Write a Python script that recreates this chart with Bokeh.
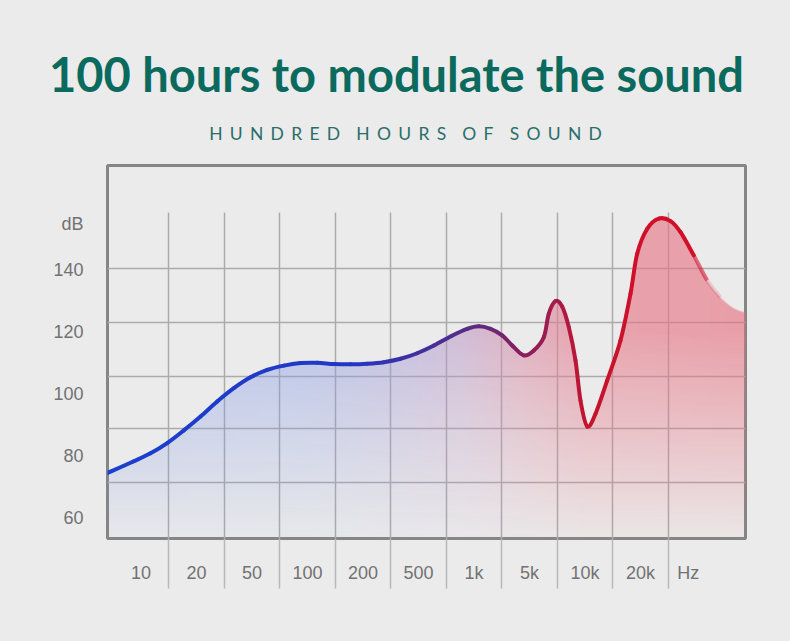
import numpy as np
from bokeh.plotting import figure
from bokeh.layouts import column
from bokeh.models import FixedTicker, Range1d
from bokeh.core.properties import value
from bokeh.embed import file_html
from bokeh.resources import INLINE

# ---------------- data ----------------
title_text = "100 hours to modulate the sound"
subtitle_text = "HUNDRED HOURS OF SOUND"

band_labels = ["10", "20", "50", "100", "200", "500", "1k", "5k", "10k", "20k"]
unit_x_label = "Hz"
band_edges = [1, 2, 3, 4, 5, 6, 7, 8, 9, 10]

db_ticks = [60, 80, 100, 120, 140]
unit_y_label = "dB"
db_unit_at = 155
db_grid = [71.4, 88.7, 105.8, 123.1, 140.5]

# curve: position along the frequency bands (band index units) and level in dB
curve_pos = [-0.105, 0.369, 0.670, 0.971, 1.270, 1.571, 1.872, 2.172, 2.473, 2.773,
             3.073, 3.374, 3.675, 3.974, 4.275, 4.576, 4.875, 5.176, 5.477, 5.776,
             6.095, 6.378, 6.587, 6.798, 7.008, 7.189, 7.398, 7.578, 7.758, 7.848,
             7.969, 8.090, 8.209, 8.329, 8.419, 8.540, 8.690, 8.901, 9.140, 9.321,
             9.441, 9.622, 9.831, 10.042, 10.222, 10.461, 10.703, 10.942, 11.182, 11.393]
curve_db = [74.4, 78.2, 80.8, 84.1, 88.2, 92.7, 97.6, 101.9, 105.4, 107.8,
            109.2, 110.0, 110.1, 109.7, 109.6, 109.8, 110.3, 111.4, 113.2, 115.7,
            118.8, 121.1, 121.9, 121.1, 119.0, 115.7, 112.5, 114.1, 118.4, 126.0,
            130.1, 128.3, 121.6, 110.9, 97.9, 89.5, 93.6, 104.4, 117.3, 132.5,
            145.4, 153.5, 156.8, 156.0, 152.4, 144.9, 136.8, 131.4, 127.9, 126.5]

# ---------------- styling ----------------
BG = "#ebebeb"
TEAL = "#0b6a5e"
X_RANGE = (-0.105, 11.393)
Y_RANGE = (53.2, 174.0)

line_stops = [(0.0, "#1b3fcf"), (4.3, "#2238c4"), (5.5, "#40309f"), (6.6, "#5c2b80"),
              (7.4, "#8a2060"), (8.0, "#a51c48"), (8.5, "#c2142f"), (9.5, "#d01029"),
              (11.4, "#d01029")]
fill_stops = [(0.0, "#7d95e6"), (3.5, "#8599e6"), (5.0, "#a29ad8"), (6.3, "#bd98c6"),
              (7.3, "#d88aa6"), (8.5, "#e6798a"), (11.4, "#e8707f")]


def hex2rgb(h):
    return [int(h[i:i + 2], 16) for i in (1, 3, 5)]


def interp_colors(u, stops):
    us = [s[0] for s in stops]
    cs = np.array([hex2rgb(s[1]) for s in stops], dtype=float)
    return np.stack([np.interp(u, us, cs[:, k]) for k in range(3)], axis=-1)


def to_hex(rgb):
    return "#%02x%02x%02x" % tuple(int(round(c)) for c in rgb)


# smooth path (Catmull-Rom -> cubic Bezier) through the read points
P = np.column_stack([curve_pos, curve_db])
Pm = np.vstack([P[0], P, P[-1]])
P0, P1, P2, P3 = Pm[:-3], Pm[1:-2], Pm[2:-1], Pm[3:]
C1 = P1 + (P2 - P0) / 6.0
C2 = P2 - (P3 - P1) / 6.0

t = np.linspace(0, 1, 30)[:, None, None]
B = ((1 - t) ** 3) * P1 + 3 * ((1 - t) ** 2) * t * C1 + 3 * (1 - t) * t ** 2 * C2 + t ** 3 * P2
dense = B.transpose(1, 0, 2).reshape(-1, 2)
dense_x = np.maximum.accumulate(dense[:, 0])
dense_y = dense[:, 1]

# ---------------- header (title + subtitle) ----------------
HEAD_H = 160
head = figure(width=790, height=HEAD_H, output_backend="svg", toolbar_location=None,
              x_range=Range1d(0, 790), y_range=Range1d(HEAD_H, 0),
              x_axis_location=None, y_axis_location=None,
              min_border_left=0, min_border_right=0, min_border_top=0, min_border_bottom=0)
head.frame_align = False
head.background_fill_color = BG
head.border_fill_color = BG
head.outline_line_color = None
head.xgrid.visible = False
head.ygrid.visible = False

head.text(x=[396], y=[73], text=[title_text], text_align="center", text_baseline="middle",
          text_font=value("Lato"), text_font_style="bold", text_font_size=value("47px"),
          text_color=TEAL)

letter_gap = "\u2005\u2006"
word_gap = "\u2005 \u2005\u2006"
spaced_sub = word_gap.join(letter_gap.join(w) for w in subtitle_text.split(" "))
head.text(x=[405], y=[133], text=[spaced_sub], text_align="center", text_baseline="middle",
          text_font=value("Lato"), text_font_size=value("17.5px"), text_color="#2a6e6a")

# ---------------- chart ----------------
p = figure(width=790, height=641 - HEAD_H, output_backend="svg", toolbar_location=None,
           x_range=Range1d(*X_RANGE), y_range=Range1d(*Y_RANGE),
           min_border_left=107, min_border_right=45, min_border_top=165 - HEAD_H,
           min_border_bottom=103)
p.frame_align = False
p.background_fill_color = BG
p.border_fill_color = BG
p.outline_line_color = "#858585"
p.outline_line_width = 3

# gradient area under the curve
W, H = 640, 374
xs = X_RANGE[0] + (np.arange(W) + 0.5) * (X_RANGE[1] - X_RANGE[0]) / W
ys = Y_RANGE[0] + (np.arange(H) + 0.5) * (Y_RANGE[1] - Y_RANGE[0]) / H
dy = (Y_RANGE[1] - Y_RANGE[0]) / H
vc = np.interp(xs, dense_x, dense_y)
cols = interp_colors(xs, fill_stops)
amax = np.interp(xs, [3.0, 8.5], [0.46, 0.62])
fade = np.clip((ys[:, None] - 48.0) / 72.0, 0.04, 1.0)
edge = np.clip((vc[None, :] - ys[:, None]) / dy + 0.5, 0.0, 1.0)
alpha = amax[None, :] * fade * edge
rgba = np.zeros((H, W, 4), dtype=np.uint8)
for k in range(3):
    rgba[..., k] = cols[None, :, k].astype(np.uint8)
rgba[..., 3] = (alpha * 255).astype(np.uint8)
img = rgba.view(dtype=np.uint32).reshape(H, W)
p.image_rgba(image=[img], x=X_RANGE[0], y=Y_RANGE[0],
             dw=X_RANGE[1] - X_RANGE[0], dh=Y_RANGE[1] - Y_RANGE[0])

# curve line with colour gradient, fading out on the far right
mid_u = (P1[:, 0] + P2[:, 0]) / 2.0
seg_colors = np.array([to_hex(c) for c in interp_colors(mid_u, line_stops)])
seg_alpha = np.clip((10.9 - mid_u) / 0.55, 0.0, 1.0)
solid = seg_alpha >= 0.999
fading = (seg_alpha > 0.01) & ~solid
for mask, cap in ((solid, "round"), (fading, "butt")):
    p.bezier(x0=P1[mask, 0], y0=P1[mask, 1], x1=P2[mask, 0], y1=P2[mask, 1],
             cx0=C1[mask, 0], cy0=C1[mask, 1], cx1=C2[mask, 0], cy1=C2[mask, 1],
             line_color=list(seg_colors[mask]), line_alpha=seg_alpha[mask].tolist(),
             line_width=4, line_cap=cap)

# grids
p.xgrid.ticker = FixedTicker(ticks=band_edges)
p.xgrid.cross_bounds = (Y_RANGE[0], 158.8)
p.ygrid.ticker = FixedTicker(ticks=db_grid)
for g in (p.xgrid, p.ygrid):
    g.grid_line_color = "#ababab"
    g.grid_line_width = 1.5

# x axis: labels between separators, separators as long minor ticks
label_pos = [i + 0.5 for i in range(len(band_labels))] + [10.36]
p.xaxis.ticker = FixedTicker(ticks=label_pos, minor_ticks=band_edges)
p.xaxis.major_label_overrides = {pos: lab for pos, lab in zip(label_pos, band_labels + [unit_x_label])}
p.xaxis.axis_line_color = None
p.xaxis.major_tick_line_color = None
p.xaxis.major_tick_out = 0
p.xaxis.major_tick_in = 0
p.xaxis.minor_tick_in = 0
p.xaxis.minor_tick_out = 50
p.xaxis.minor_tick_line_color = "#b8b8b8"
p.xaxis.minor_tick_line_width = 1.5
p.xaxis.major_label_standoff = -26

# y axis
p.yaxis.ticker = FixedTicker(ticks=db_ticks + [db_unit_at])
p.yaxis.major_label_overrides = {db_unit_at: unit_y_label}
p.yaxis.axis_line_color = None
p.yaxis.major_tick_line_color = None
p.yaxis.minor_tick_line_color = None
p.yaxis.major_tick_out = 0
p.yaxis.major_tick_in = 0
p.yaxis.major_label_standoff = 24

for ax in (p.xaxis, p.yaxis):
    ax.major_label_text_font = "Liberation Sans"
    ax.major_label_text_font_size = "18px"
    ax.major_label_text_color = "#727272"

layout = column(head, p, spacing=0, styles={"background-color": BG})
open("out.html", "w").write(file_html(layout, INLINE))
